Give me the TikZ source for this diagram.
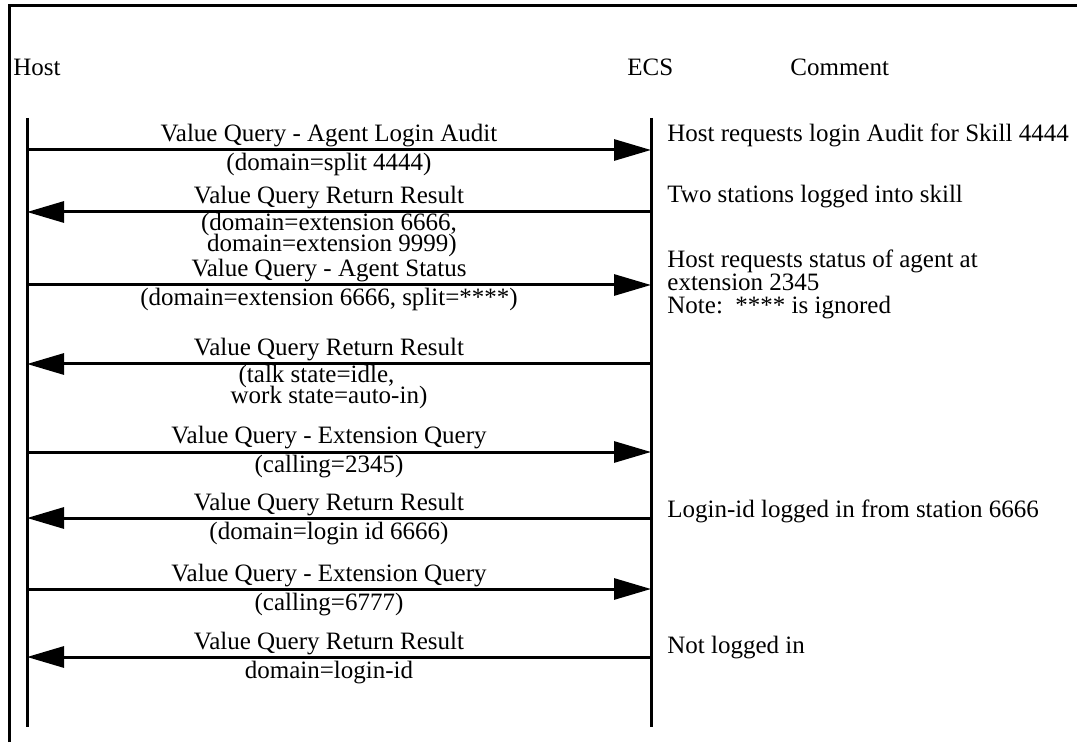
\documentclass[tikz,border=0pt]{standalone}
\usepackage{fontspec}
\setmainfont{Liberation Serif}
\usetikzlibrary{arrows.meta}

\tikzset{
  ligne/.style={line width=1.5pt},
  msg/.style={line width=1.5pt, -{Triangle[length=18.5pt, width=10.5pt]}},
  txt/.style={font=\fontsize{12.5}{9.5}\selectfont, inner sep=0pt},
  haut/.style={txt, midway, anchor=base, yshift=4pt, xshift=-5pt},
  bas/.style={txt, midway, anchor=base, yshift=-10.5pt, xshift=-5pt},
  bas2/.style={bas, align=left, yshift=-9.5pt},
  note/.style={font=\fontsize{12.5}{11.5}\selectfont, inner sep=0pt, anchor=base west, align=left},
}

\begin{document}
\begin{tikzpicture}[x=0.5pt, y=-0.5pt]
\useasboundingbox (0,0) rectangle (1077,743);

% Cadre
\draw[ligne] (9,742) -- (9,6) -- (1077,6);

% En-tetes
\node[txt, anchor=base west] (host) at (13,76) {Host};
\node[txt, anchor=base west] (ecs) at (627,76) {ECS};
\node[txt, anchor=base west] (comment) at (790,76) {Comment};

% Lignes de vie
\coordinate (hostTop) at (27,118);
\coordinate (hostBot) at (27,727);
\coordinate (ecsTop) at (651,118);
\coordinate (ecsBot) at (651,727);
\draw[ligne] (hostTop) -- (hostBot);
\draw[ligne] (ecsTop) -- (ecsBot);

% Points des messages
\coordinate (h1) at (27,150);  \coordinate (e1) at (651,150);
\coordinate (h2) at (27,212);  \coordinate (e2) at (651,212);
\coordinate (h3) at (27,285);  \coordinate (e3) at (651,285);
\coordinate (h4) at (27,364);  \coordinate (e4) at (651,364);
\coordinate (h5) at (27,452);  \coordinate (e5) at (651,452);
\coordinate (h6) at (27,518);  \coordinate (e6) at (651,518);
\coordinate (h7) at (27,589);  \coordinate (e7) at (651,589);
\coordinate (h8) at (27,657);  \coordinate (e8) at (651,657);

% Audit login
\draw[msg] (h1) -- (e1)
  node[haut] (q1) {Value Query - Agent Login Audit}
  node[bas] (r1) {(domain=split 4444)};

% Retour audit
\draw[msg] (e2) -- (h2)
  node[haut] (q2) {Value Query Return Result}
  node[bas2] (r2) {(domain=extension 6666,\\[-1.5pt]\hspace{3pt}domain=extension 9999)};

% Statut agent
\draw[msg] (h3) -- (e3)
  node[haut] (q3) {Value Query - Agent Status}
  node[bas] (r3) {(domain=extension 6666, split=****)};

% Retour statut
\draw[msg] (e4) -- (h4)
  node[haut] (q4) {Value Query Return Result}
  node[bas2] (r4) {\hspace{4pt}(talk state=idle,\\[-1.5pt]work state=auto-in)};

% Extension 2345
\draw[msg] (h5) -- (e5)
  node[haut] (q5) {Value Query - Extension Query}
  node[bas] (r5) {(calling=2345)};

% Retour extension
\draw[msg] (e6) -- (h6)
  node[haut] (q6) {Value Query Return Result}
  node[bas] (r6) {(domain=login id 6666)};

% Extension 6777
\draw[msg] (h7) -- (e7)
  node[haut] (q7) {Value Query - Extension Query}
  node[bas] (r7) {(calling=6777)};

% Retour final
\draw[msg] (e8) -- (h8)
  node[haut] (q8) {Value Query Return Result}
  node[bas] (r8) {domain=login-id};

% Commentaires
\node[note] (c1) at (667,142) {Host requests login Audit for Skill 4444};
\node[note] (c2) at (667,203) {Two stations logged into skill};
\node[note] (c3) at (667,314) {Host requests status of agent at\\extension 2345\\Note:\ \ **** is ignored};
\node[note] (c4) at (667,517) {Login-id logged in from station 6666};
\node[note] (c5) at (667,653) {Not logged in};

\end{tikzpicture}
\end{document}
